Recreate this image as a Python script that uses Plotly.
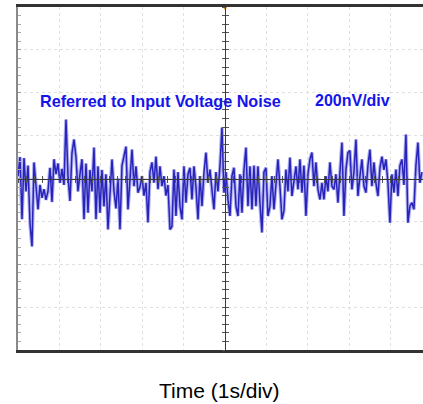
import numpy as np
import plotly.graph_objects as go

# Referred-to-input voltage noise trace, nV
noise_nv = [
    10, 100, -190, 95, -60, 60, -210, -317, 75, -40, -144, -30, -90, -50, -100, -60,
    50, -110, 90, 20, 70, -20, 45, -30, 275, 10, -105, 120, 182, 100, -60, 20,
    90, -190, 70, -160,
    40, -60, 144, -190, 57, -160, 40, -130, 20, -238, -40, 89, -60, -140, 0, -238,
    60, 100, 149, -144, 20, 135, -36, 57, -66, -40, 11, -80, -20, -205, 30, 75,
    -20, 102, -50, 57, -36, 11, -80, -30, -238,
    -224, 42, -175, 30, -129, -191, 57, -113, 20, 50, -98, 57, -40, -191, 11, -129,
    30, 121, -20, 42, -66, -144, 30, -60, 57, 238, -66, 30, -98, -175, 11, 50,
    -129, -175, 20, -160, 40, 144, -129, 57, -144,
    60, -129, 57, -113, -252, 30, 50, -175, -129, 11, -144, -30, 89, -36, -191, -150,
    42, -60, 98, -82, -20, 57, -51, 89, -66, 60, -175, 20, 89, 121, -36, 75,
    -51, -98, -20, -98, 11, -60, 75, -36, -51, 20,
    -113, 57, 168, -175, 40, 121, 130, -51, 30, 182, -82, 11, 89, -36, -66, 60,
    135, -36, 75, -20, -82, 50, 102, 40, 89, -20, -206, 20, -66, 42, -82, 60,
    89, -30, 205, -206, -129, -113, -144, 60, 168, -20, 30,
]
sample_step_s = 0.0483
time_s = [i * sample_step_s for i in range(len(noise_nv))]

x_range = [0, 10]
y_range = [-800, 800]
trigger_time_s = 5
label_main = "Referred to Input Voltage Noise"
label_scale = "200nV/div"
x_title = "Time (1s/div)"

fig = go.Figure()
# soft halo of the scope trace
fig.add_trace(go.Scatter(x=time_s, y=noise_nv, mode="lines",
                         line=dict(color="rgba(100,100,230,0.5)", width=3.6),
                         hoverinfo="skip", showlegend=False))
fig.add_trace(go.Scatter(x=time_s, y=noise_nv, mode="lines",
                         line=dict(color="rgb(40,35,185)", width=1.5),
                         showlegend=False))
# channel ground marker and trigger marker
fig.add_trace(go.Scatter(x=[-0.2], y=[0], mode="markers", cliponaxis=False,
                         marker=dict(symbol="square", size=9, color="rgb(40,40,225)"),
                         showlegend=False, hoverinfo="skip"))
fig.add_trace(go.Scatter(x=[trigger_time_s], y=[y_range[1]], mode="markers", cliponaxis=False,
                         marker=dict(symbol="triangle-down", size=6, color="rgb(230,150,30)"),
                         showlegend=False, hoverinfo="skip"))
# invisible traces to bind the centre graticule axes
fig.add_trace(go.Scatter(x=[None], y=[None], xaxis="x2", yaxis="y2", showlegend=False))
fig.add_trace(go.Scatter(x=[None], y=[None], xaxis="x3", yaxis="y3", showlegend=False))

center_pos_x = (trigger_time_s - x_range[0]) / (x_range[1] - x_range[0])

common_center = dict(showgrid=False, zeroline=False, showticklabels=False,
                     showline=True, linecolor="#3a3a3a", linewidth=1,
                     tickcolor="#555", ticklen=3, tickwidth=1)

fig.update_layout(
    width=432, height=404,
    margin=dict(l=18, r=0, t=7, b=54),
    paper_bgcolor="white", plot_bgcolor="white",
    xaxis=dict(range=x_range, tick0=0, dtick=1, showgrid=True, gridcolor="#e0e0e0",
               griddash="dot", gridwidth=1, zeroline=False, showticklabels=False,
               showline=True, linecolor="#333", linewidth=3, mirror=True, ticks=""),
    yaxis=dict(range=y_range, tick0=-800, dtick=200, showgrid=True, gridcolor="#e0e0e0",
               griddash="dot", gridwidth=1, zeroline=False, showticklabels=False,
               showline=True, linecolor="#8a8a8a", linewidth=1.5, ticks="inside",
               ticklen=3, tickcolor="#999",
               minor=dict(dtick=40, ticks="inside", ticklen=3, tickcolor="#aaa", showgrid=False)),
    xaxis2=dict(range=x_range, overlaying="x", anchor="free", position=0.5, side="bottom",
                tick0=0, dtick=0.2, ticks="outside", **common_center),
    yaxis2=dict(range=y_range, overlaying="y", anchor="free", position=center_pos_x, side="left",
                tick0=0, dtick=40, ticks="outside", **common_center),
    xaxis3=dict(range=x_range, overlaying="x", anchor="free", position=0.5, side="bottom",
                tick0=0, dtick=0.2, ticks="inside", **common_center),
    yaxis3=dict(range=y_range, overlaying="y", anchor="free", position=center_pos_x, side="left",
                tick0=0, dtick=40, ticks="inside", **common_center),
    annotations=[
        dict(x=0.48, y=363, xref="x", yref="y", text=label_main, showarrow=False,
             xanchor="left", yanchor="middle",
             font=dict(family="Liberation Sans, Arial", size=16.2, color="rgb(20,20,235)", weight="bold")),
        dict(x=7.13, y=363, xref="x", yref="y", text=label_scale, showarrow=False,
             xanchor="left", yanchor="middle",
             font=dict(family="Liberation Sans, Arial", size=16, color="rgb(20,20,235)", weight="bold")),
        dict(x=(219 - 18) / (432 - 18), y=0, xref="paper", yref="paper", text=x_title,
             showarrow=False, xanchor="center", yanchor="middle", yshift=-40,
             font=dict(family="Liberation Sans, Arial", size=21, color="black")),
    ],
)

fig.write_html("out.html", config={"displayModeBar": False},
               post_script="document.body.style.margin='0';document.body.style.overflow='hidden';")
